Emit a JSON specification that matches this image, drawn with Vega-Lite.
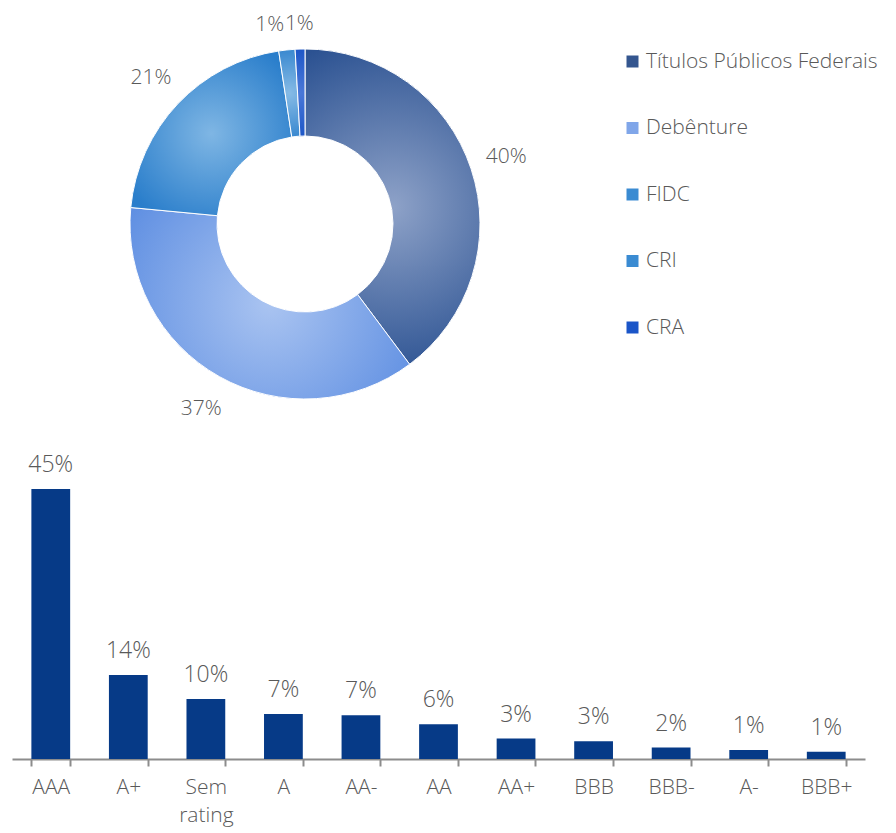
{
  "$schema": "https://vega.github.io/schema/vega-lite/v6.json",
  "padding": {"left": 12, "top": 0, "right": 0, "bottom": 12},
  "bounds": "flush",
  "spacing": 11,
  "config": {"view": {"stroke": null}, "font": "Open Sans", "text": {"fontWeight": 300}, "axis": {"labelFontWeight": 300}, "legend": {"labelFontWeight": 300}},
  "datasets": {
    "alloc": [
      {"cat": "Títulos Públicos Federais", "pct": 39.8, "ord": 1, "label": "40%"},
      {"cat": "Debênture", "pct": 36.7, "ord": 2, "label": "37%"},
      {"cat": "FIDC", "pct": 21.1, "ord": 3, "label": "21%"},
      {"cat": "CRI", "pct": 1.5, "ord": 4, "label": "1%"},
      {"cat": "CRA", "pct": 0.9, "ord": 5, "label": "1%"}
    ],
    "ratings": [
      {"rating": "AAA", "pct": 45, "label": "45%"},
      {"rating": "A+", "pct": 14, "label": "14%"},
      {"rating": "Sem rating", "pct": 10, "label": "10%"},
      {"rating": "A", "pct": 7.5, "label": "7%"},
      {"rating": "AA-", "pct": 7.3, "label": "7%"},
      {"rating": "AA", "pct": 5.8, "label": "6%"},
      {"rating": "AA+", "pct": 3.4, "label": "3%"},
      {"rating": "BBB", "pct": 2.95, "label": "3%"},
      {"rating": "BBB-", "pct": 1.9, "label": "2%"},
      {"rating": "A-", "pct": 1.5, "label": "1%"},
      {"rating": "BBB+", "pct": 1.2, "label": "1%"}
    ]
  },
  "vconcat": [
    {
      "width": 586,
      "height": 448,
      "data": {"name": "alloc"},
      "layer": [
        {
          "mark": {"type": "arc", "outerRadius": 175, "innerRadius": 88},
          "encoding": {
            "theta": {"field": "pct", "type": "quantitative", "stack": true},
            "order": {"field": "ord", "type": "quantitative"},
            "color": {
              "field": "cat",
              "type": "nominal",
              "sort": ["Títulos Públicos Federais", "Debênture", "FIDC", "CRI", "CRA"],
              "scale": {
                "domain": ["Títulos Públicos Federais", "Debênture", "FIDC", "CRI", "CRA"],
                "range": ["#34568f", "#80a6e9", "#3a8bd2", "#3a8bd2", "#1a55c8"]
              },
              "legend": {
                "orient": "none",
                "legendX": 610,
                "legendY": 51,
                "title": null,
                "labelFontSize": 21,
                "labelColor": "#595959",
                "labelFont": "Open Sans",
                "labelLimit": 0,
                "symbolType": "square",
                "symbolSize": 144,
                "symbolStrokeWidth": 0,
                "rowPadding": 44.5,
                "labelOffset": 3
              }
            }
          }
        },
        {
          "mark": {"type": "arc", "outerRadius": 175, "innerRadius": 88, "stroke": "white", "strokeWidth": 1},
          "encoding": {
            "theta": {"field": "pct", "type": "quantitative", "stack": true},
            "order": {"field": "ord", "type": "quantitative"},
            "fill": {
              "condition": [
                {"test": "datum.cat === 'Títulos Públicos Federais'", "value": {"gradient": "radial", "x1": 0.5, "y1": 0.5, "r1": 0, "x2": 0.5, "y2": 0.5, "r2": 0.6, "stops": [{"offset": 0, "color": "#8ea2c8"}, {"offset": 1, "color": "#234b8d"}]}},
                {"test": "datum.cat === 'Debênture'", "value": {"gradient": "radial", "x1": 0.5, "y1": 0.5, "r1": 0, "x2": 0.5, "y2": 0.5, "r2": 0.6, "stops": [{"offset": 0, "color": "#aac4f1"}, {"offset": 1, "color": "#5f8fe2"}]}},
                {"test": "datum.cat === 'FIDC'", "value": {"gradient": "radial", "x1": 0.5, "y1": 0.5, "r1": 0, "x2": 0.5, "y2": 0.5, "r2": 0.6, "stops": [{"offset": 0, "color": "#7fb6e4"}, {"offset": 1, "color": "#2a7ecb"}]}},
                {"test": "datum.cat === 'CRI'", "value": {"gradient": "radial", "x1": 0.5, "y1": 0.5, "r1": 0, "x2": 0.5, "y2": 0.5, "r2": 0.6, "stops": [{"offset": 0, "color": "#86bbe6"}, {"offset": 1, "color": "#2a7ecb"}]}}
              ],
              "value": {"gradient": "radial", "x1": 0.5, "y1": 0.5, "r1": 0, "x2": 0.5, "y2": 0.5, "r2": 0.6, "stops": [{"offset": 0, "color": "#4a78d8"}, {"offset": 1, "color": "#1450c4"}]}
            }
          }
        },
        {
          "mark": {"type": "text", "radius": 212, "fontSize": 21, "color": "#595959"},
          "encoding": {
            "theta": {"field": "pct", "type": "quantitative", "stack": true},
            "order": {"field": "ord", "type": "quantitative"},
            "text": {"condition": {"test": "datum.cat === 'CRI' || datum.cat === 'CRA'", "value": ""}, "field": "label", "type": "nominal"}
          }
        },
        {
          "mark": {"type": "text", "radius": 200, "fontSize": 21, "color": "#595959", "align": "right"},
          "encoding": {
            "theta": {"field": "pct", "type": "quantitative", "stack": true},
            "order": {"field": "ord", "type": "quantitative"},
            "text": {"condition": {"test": "datum.cat === 'CRI'", "field": "label", "type": "nominal"}, "value": ""}
          }
        },
        {
          "mark": {"type": "text", "radius": 200, "fontSize": 21, "color": "#595959", "align": "center"},
          "encoding": {
            "theta": {"field": "pct", "type": "quantitative", "stack": true},
            "order": {"field": "ord", "type": "quantitative"},
            "text": {"condition": {"test": "datum.cat === 'CRA'", "field": "label", "type": "nominal"}, "value": ""}
          }
        }
      ]
    },
    {
      "width": 853,
      "height": 300,
      "data": {"name": "ratings"},
      "encoding": {
        "x": {
          "field": "rating",
          "type": "nominal",
          "sort": null,
          "scale": {"paddingInner": 0.5, "paddingOuter": 0.25},
          "axis": {
            "title": null,
            "domainColor": "#8c8c8c",
            "domainWidth": 2,
            "tickColor": "#8c8c8c",
            "tickWidth": 2,
            "tickSize": 7,
            "tickBand": "extent",
            "labelFontSize": 21,
            "labelColor": "#595959",
            "labelPadding": 10,
            "labelAngle": 0,
            "labelLineHeight": 28,
            "labelExpr": "datum.label === 'Sem rating' ? ['Sem', 'rating'] : datum.label"
          }
        },
        "y": {"field": "pct", "type": "quantitative", "scale": {"domain": [0, 50]}, "axis": null}
      },
      "layer": [
        {"mark": {"type": "bar", "color": "#063a87"}},
        {
          "mark": {"type": "text", "baseline": "alphabetic", "dy": -17, "fontSize": 23, "color": "#595959"},
          "encoding": {"text": {"field": "label", "type": "nominal"}}
        }
      ]
    }
  ]
}
